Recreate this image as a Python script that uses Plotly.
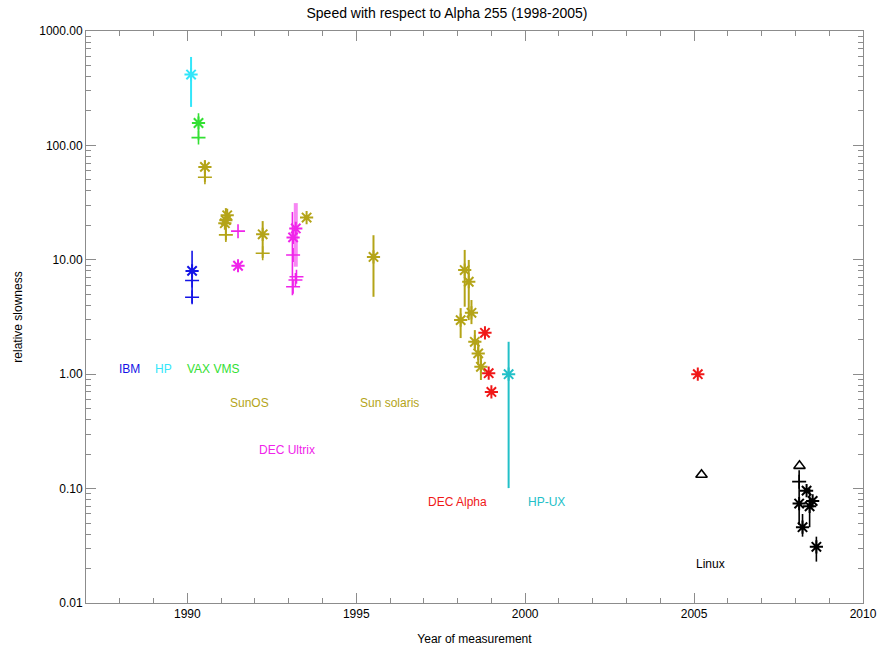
import math
import plotly.graph_objects as go

# ---------------- data ----------------
# IBM (blue)
ibm_star_x = [1990.14]; ibm_star_y = [8.0]
ibm_plus_x = [1990.14, 1990.14]; ibm_plus_y = [6.6, 4.7]
ibm_bar_x = [1990.14]; ibm_bar_lo = [4.2]; ibm_bar_hi = [12.0]

# HP (cyan)
hp_star_x = [1990.11]; hp_star_y = [416]
hp_bar_x = [1990.11]; hp_bar_lo = [217]; hp_bar_hi = [593]

# VAX VMS (green)
vax_star_x = [1990.33]; vax_star_y = [157]
vax_plus_x = [1990.33]; vax_plus_y = [117]
vax_bar_x = [1990.33]; vax_bar_lo = [111]; vax_bar_hi = [191]

# SunOS / Sun solaris (olive)
sun_star_x = [1990.52, 1991.18, 1991.14, 1991.11, 1992.23, 1993.53, 1995.51,
              1998.21, 1998.33, 1998.41, 1998.09, 1998.51, 1998.61, 1998.69]
sun_star_y = [64.9, 24.5, 22.2, 20.9, 16.7, 23.4, 10.6,
              8.13, 6.43, 3.44, 2.97, 1.92, 1.52, 1.16]
sun_plus_x = [1990.52, 1991.14, 1992.23]
sun_plus_y = [52.7, 16.5, 11.4]
sun_bar_x = [1990.52, 1991.14, 1992.23, 1995.51, 1998.21, 1998.33, 1998.41,
             1998.09, 1998.51, 1998.61, 1998.69]
sun_bar_lo = [48, 14.8, 10.4, 4.75, 3.89, 2.97, 2.74, 2.07, 1.63, 1.2, 0.89]
sun_bar_hi = [74, 28.3, 21.8, 16.4, 12.2, 9.97, 4.45, 3.78, 2.43, 1.99, 1.47]

# DEC Ultrix (magenta)
ult_star_x = [1991.5, 1993.13, 1993.21]
ult_star_y = [8.87, 15.7, 18.8]
ult_plus_x = [1991.5, 1993.13, 1993.23, 1993.2, 1993.13]
ult_plus_y = [17.8, 11.0, 7.1, 6.65, 5.81]
ult_bar_x = [1993.21, 1993.11]
ult_bar_lo = [8.7, 4.9]
ult_bar_hi = [31.3, 26.2]

# DEC Alpha (red)
alpha_star_x = [1998.81, 1998.92, 1999.0, 2005.11]
alpha_star_y = [2.30, 1.02, 0.70, 1.0]

# HP-UX (teal)
hpux_star_x = [1999.51]; hpux_star_y = [1.0]
hpux_bar_x = [1999.51]; hpux_bar_lo = [0.101]; hpux_bar_hi = [1.92]

# Linux (black)
lin_tri_x = [2005.22, 2008.12]; lin_tri_y = [0.132, 0.158]
lin_plus_x = [2008.11]; lin_plus_y = [0.115]
lin_star_x = [2008.33, 2008.11, 2008.51, 2008.42, 2008.21, 2008.62]
lin_star_y = [0.096, 0.074, 0.078, 0.070, 0.046, 0.031]
lin_bar_x = [2008.11, 2008.42, 2008.21, 2008.62]
lin_bar_lo = [0.048, 0.046, 0.038, 0.023]
lin_bar_hi = [0.145, 0.10, 0.06, 0.038]

# group labels
label_text = ["IBM", "HP", "VAX VMS", "SunOS", "Sun solaris", "DEC Ultrix",
              "DEC Alpha", "HP-UX", "Linux"]
label_x = [1988.30, 1989.28, 1990.76, 1991.85, 1995.99, 1992.95, 1998.0, 2000.64, 2005.49]
label_y = [1.11, 1.11, 1.11, 0.56, 0.56, 0.218, 0.0766, 0.0766, 0.022]

y_tickvals = [0.01, 0.1, 1, 10, 100, 1000]
y_ticktext = ["0.01", "0.10", "1.00", "10.00", "100.00", "1000.00"]
x_tickvals = [1990, 1995, 2000, 2005, 2010]

# ---------------- colours ----------------
BLUE = "#1414e6"
CYAN = "#33e6fa"
GREEN = "#33e033"
OLIVE = "#b4a418"
MAGENTA = "#f024ea"
RED = "#f01818"
TEAL = "#22c0c8"
BLACK = "#000000"
label_colors = [BLUE, CYAN, GREEN, OLIVE, OLIVE, MAGENTA, RED, TEAL, BLACK]

fig = go.Figure()


def bars(xs, lo, hi, color, width=2):
    bx, by = [], []
    for x, a, b in zip(xs, lo, hi):
        bx += [x, x, None]
        by += [a, b, None]
    fig.add_trace(go.Scatter(x=bx, y=by, mode="lines",
                             line=dict(color=color, width=width),
                             hoverinfo="skip", showlegend=False))


def stars(xs, ys, color, size=11):
    fig.add_trace(go.Scatter(x=xs, y=ys, mode="markers",
                             marker=dict(symbol="asterisk-open", size=size,
                                         color=color, line=dict(color=color, width=2)),
                             showlegend=False))


def pluses(xs, ys, color, size=10):
    fig.add_trace(go.Scatter(x=xs, y=ys, mode="markers",
                             marker=dict(symbol="cross-thin-open", size=size,
                                         color=color, line=dict(color=color, width=1.6)),
                             showlegend=False))


bars(ibm_bar_x, ibm_bar_lo, ibm_bar_hi, BLUE, 1.6)
stars(ibm_star_x, ibm_star_y, BLUE)
pluses(ibm_plus_x, ibm_plus_y, BLUE)

bars(hp_bar_x, hp_bar_lo, hp_bar_hi, CYAN, 2)
stars(hp_star_x, hp_star_y, CYAN)

bars(vax_bar_x, vax_bar_lo, vax_bar_hi, GREEN, 1.6)
stars(vax_star_x, vax_star_y, GREEN)
pluses(vax_plus_x, vax_plus_y, GREEN)

bars(sun_bar_x, sun_bar_lo, sun_bar_hi, OLIVE, 2)
stars(sun_star_x, sun_star_y, OLIVE)
pluses(sun_plus_x, sun_plus_y, OLIVE)

bars(ult_bar_x[:1], ult_bar_lo[:1], ult_bar_hi[:1], "rgba(240,36,234,0.55)", 4)
bars(ult_bar_x[1:], ult_bar_lo[1:], ult_bar_hi[1:], MAGENTA, 1.6)
stars(ult_star_x, ult_star_y, MAGENTA)
pluses(ult_plus_x, ult_plus_y, MAGENTA)

stars(alpha_star_x, alpha_star_y, RED)

bars(hpux_bar_x, hpux_bar_lo, hpux_bar_hi, TEAL, 2)
stars(hpux_star_x, hpux_star_y, TEAL)

bars(lin_bar_x, lin_bar_lo, lin_bar_hi, BLACK, 1.6)
stars(lin_star_x, lin_star_y, BLACK)
pluses(lin_plus_x, lin_plus_y, BLACK)
fig.add_trace(go.Scatter(x=lin_tri_x, y=lin_tri_y, mode="markers",
                         marker=dict(symbol="triangle-up-open", size=10, color=BLACK,
                                     line=dict(color=BLACK, width=1.6)),
                         showlegend=False))

for t, x, y, c in zip(label_text, label_x, label_y, label_colors):
    # annotations on a log axis take log10 positions
    fig.add_annotation(x=x, y=math.log10(y), yref="y", xref="x", text=t, showarrow=False,
                       font=dict(color=c, size=12, family="Liberation Sans, Arial"),
                       xanchor="center", yanchor="middle")

minor_y = []
for d in [0.01, 0.1, 1, 10, 100]:
    minor_y += [d * k for k in range(2, 10)]

AX = "#8c8c8c"
fig.update_layout(
    width=881, height=649, autosize=False,
    margin=dict(l=86, r=18, t=31, b=46, pad=0, autoexpand=False),
    paper_bgcolor="white", plot_bgcolor="white",
    font=dict(family="Liberation Sans, Arial", size=12, color="black"),
    showlegend=False,
    title=dict(text="Speed with respect to Alpha 255 (1998-2005)",
               x=447 / 881, xanchor="center", y=1 - 13 / 649, yanchor="middle",
               font=dict(size=14, color="black")),
    xaxis=dict(range=[1987, 2010], tickvals=x_tickvals,
               ticktext=[str(v) for v in x_tickvals], automargin=False,
               ticks="inside", ticklen=10, tickcolor=AX, tickwidth=1,
               showline=True, linecolor=AX, linewidth=1, mirror="ticks",
               showgrid=False, zeroline=False,
               minor=dict(tickvals=list(range(1987, 2011)), ticks="inside",
                          ticklen=5, tickcolor=AX, showgrid=False),
               title=dict(text="Year of measurement", standoff=14,
                          font=dict(size=12)),
               tickfont=dict(size=12)),
    yaxis=dict(type="log", range=[-2, 3], tickvals=y_tickvals, ticktext=y_ticktext,
               automargin=False,
               ticks="inside", ticklen=10, tickcolor=AX, tickwidth=1,
               showline=True, linecolor=AX, linewidth=1, mirror="ticks",
               showgrid=False, zeroline=False,
               minor=dict(tickvals=minor_y, ticks="inside", ticklen=5,
                          tickcolor=AX, showgrid=False),
               title=dict(text="relative slowness", standoff=14,
                          font=dict(size=12)),
               tickfont=dict(size=12)),
)

fig.write_html("out.html", config={"displayModeBar": False},
               post_script="document.body.style.margin='0';document.body.style.overflow='hidden';")
